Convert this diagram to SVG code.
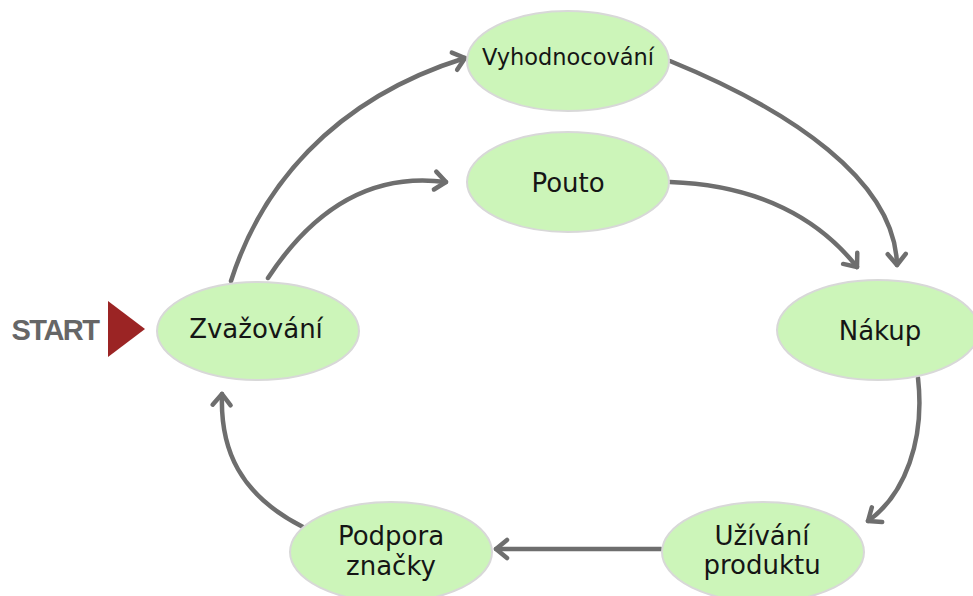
<svg xmlns="http://www.w3.org/2000/svg" width="973" height="596" viewBox="0 0 973 596">
<style>
.node ellipse{fill:#ccf5b9;stroke:#d8d8d8;stroke-width:2}
.node text{font-family:"DejaVu Sans",sans-serif;font-size:26px;fill:#151515;text-anchor:middle}
.conn path{fill:none;stroke:#6e6e6e;stroke-width:4.5;stroke-linecap:round}
</style>
<defs>
<marker id="ah" markerUnits="userSpaceOnUse" viewBox="-16 -12 20 24" markerWidth="20" markerHeight="24" refX="0" refY="0" orient="auto">
<path d="M-11,-9 L0,0 L-11,9" fill="none" stroke="#6e6e6e" stroke-width="4.5" stroke-linecap="round" stroke-linejoin="round"/>
</marker>
</defs>
<rect width="973" height="596" fill="#ffffff"/>
<g id="start">
<text x="55" y="340" font-family="Liberation Sans,Arial,sans-serif" font-weight="bold" font-size="29" letter-spacing="-1.5" fill="#666666" text-anchor="middle">START</text>
<polygon points="108,301 145,329 108,357" fill="#9b2424"/>
</g>
<g class="conn" id="connectors">
<path d="M231,281 C260,190 330,100 465,58" marker-end="url(#ah)"/>
<path d="M268,278 Q340,168 446,182" marker-end="url(#ah)"/>
<path d="M670,61 C790,110 895,180 897,265" marker-end="url(#ah)"/>
<path d="M670,182 C760,185 820,220 857,267" marker-end="url(#ah)"/>
<path d="M918,378 C925,440 905,495 868,521" marker-end="url(#ah)"/>
<path d="M661,549 L496,549" marker-end="url(#ah)"/>
<path d="M303,527 C240,495 220,450 222,394" marker-end="url(#ah)"/>
</g>
<g class="node" id="vyhodnocovani">
<ellipse cx="568" cy="61" rx="101" ry="50"/>
<text x="568" y="65" style="font-size:22.5px">Vyhodnocování</text>
</g>
<g class="node" id="pouto">
<ellipse cx="568" cy="182" rx="101" ry="50"/>
<text x="568" y="192">Pouto</text>
</g>
<g class="node" id="zvazovani">
<ellipse cx="258" cy="331" rx="101" ry="49"/>
<text x="256" y="338">Zvažování</text>
</g>
<g class="node" id="nakup">
<ellipse cx="878" cy="330" rx="101" ry="50"/>
<text x="880" y="340">Nákup</text>
</g>
<g class="node" id="uzivani">
<ellipse cx="763" cy="552" rx="101" ry="50"/>
<text x="762" y="545">Užívání</text>
<text x="762" y="574">produktu</text>
</g>
<g class="node" id="podpora">
<ellipse cx="391" cy="552" rx="101" ry="50"/>
<text x="391" y="545">Podpora</text>
<text x="391" y="575">značky</text>
</g>
</svg>
